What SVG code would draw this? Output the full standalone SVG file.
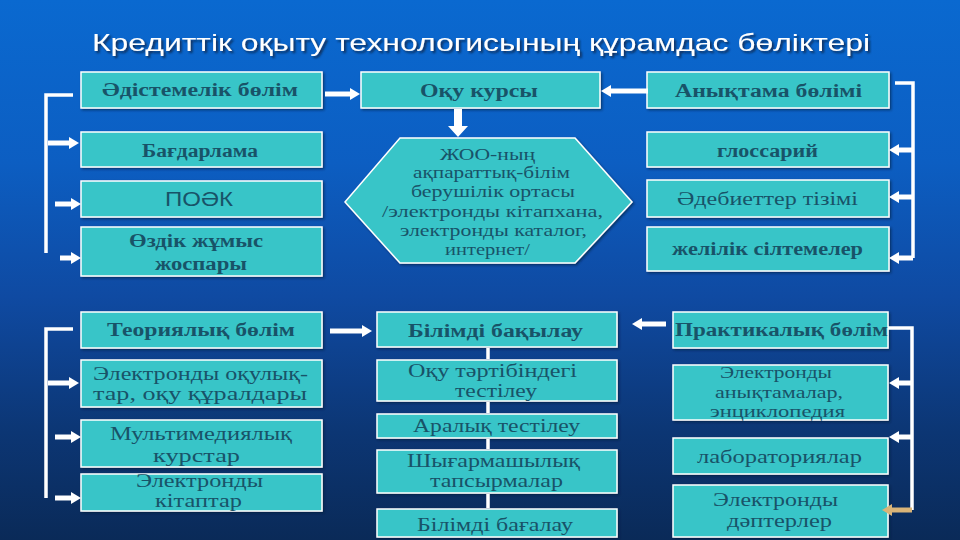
<svg xmlns="http://www.w3.org/2000/svg" width="960" height="540" viewBox="0 0 960 540">
<style>
.box{fill:#37c5c8;stroke:#ffffff;stroke-width:1.5}
.t{font-family:"Liberation Serif","DejaVu Serif",serif;font-size:18px;fill:#185368;text-anchor:start}
.b{font-weight:bold}
.s{font-family:"Liberation Sans",Arial,sans-serif;font-size:20px}
.h{font-size:16.5px}
.ln{fill:none;stroke:#ffffff;stroke-width:3.5}
.ar{fill:none;stroke:#ffffff;stroke-width:5;marker-end:url(#ah)}
.title{font-family:"Liberation Sans",Arial,sans-serif;font-size:24px;fill:#ffffff;filter:url(#sh)}
</style>
<defs>
<linearGradient id="bg" x1="0" y1="0" x2="0" y2="1">
<stop offset="0" stop-color="#0a69d0"/>
<stop offset="0.3" stop-color="#0c5ec2"/>
<stop offset="0.55" stop-color="#0f4aa2"/>
<stop offset="0.8" stop-color="#0c3674"/>
<stop offset="1" stop-color="#0a2a58"/>
</linearGradient>
<filter id="sh" x="-5%" y="-30%" width="110%" height="160%">
<feDropShadow dx="2" dy="2" stdDeviation="0.8" flood-color="#08284f" flood-opacity="0.9"/>
</filter>
<filter id="bs" x="-5%" y="-10%" width="110%" height="130%">
<feDropShadow dx="1.5" dy="1.5" stdDeviation="0.8" flood-color="#061a38" flood-opacity="0.6"/>
</filter>
<marker id="ah" viewBox="0 0 10 12" refX="0" refY="6" markerWidth="10" markerHeight="12" markerUnits="userSpaceOnUse" orient="auto">
<path d="M0,0 L10,6 L0,12 z" fill="#ffffff"/>
</marker>
<marker id="ah2" viewBox="0 0 10 12" refX="0" refY="6" markerWidth="10" markerHeight="12" markerUnits="userSpaceOnUse" orient="auto">
<path d="M0,0 L10,6 L0,12 z" fill="#d9b478"/>
</marker>
</defs>
<rect x="0" y="0" width="960" height="540" fill="url(#bg)"/>

<text class="title" x="92" y="51" textLength="778" lengthAdjust="spacingAndGlyphs">Кредиттік оқыту технологисының құрамдас бөліктері</text>

<g id="n-adistemelik"><rect class="box" x="81" y="72" width="241" height="36" filter="url(#bs)"/><text class="t b" x="102" y="96" textLength="196" lengthAdjust="spacingAndGlyphs">Әдістемелік бөлім</text></g>
<g id="n-bagdarlama"><rect class="box" x="81" y="132" width="241" height="35" filter="url(#bs)"/><text class="t b" x="142" y="157" textLength="116" lengthAdjust="spacingAndGlyphs">Бағдарлама</text></g>
<g id="n-poek"><rect class="box" x="81" y="181" width="241" height="36" filter="url(#bs)"/><text class="t s" x="165" y="206" textLength="68" lengthAdjust="spacingAndGlyphs">ПОӘК</text></g>
<g id="n-ozdik"><rect class="box" x="81" y="227" width="241" height="49" filter="url(#bs)"/><text class="t b" x="129" y="247" textLength="134" lengthAdjust="spacingAndGlyphs">Өздік жұмыс</text><text class="t b" x="155" y="270" textLength="92" lengthAdjust="spacingAndGlyphs">жоспары</text></g>

<g id="n-oku-kursy"><rect class="box" x="361" y="72" width="239" height="36" filter="url(#bs)"/><text class="t b" x="420" y="97" textLength="118" lengthAdjust="spacingAndGlyphs">Оқу курсы</text></g>
<g id="n-zhoo"><polygon class="box" points="400,138 575,138 632,202 575,263 400,263 345,202" filter="url(#bs)"/>
<text class="t h" x="440" y="160" textLength="95" lengthAdjust="spacingAndGlyphs">ЖОО-ның</text>
<text class="t h" x="413" y="178" textLength="157" lengthAdjust="spacingAndGlyphs">ақпараттық-білім</text>
<text class="t h" x="411" y="197" textLength="164" lengthAdjust="spacingAndGlyphs">берушілік ортасы</text>
<text class="t h" x="382" y="217" textLength="221" lengthAdjust="spacingAndGlyphs">/электронды кітапхана,</text>
<text class="t h" x="400" y="236" textLength="187" lengthAdjust="spacingAndGlyphs">электронды каталог,</text>
<text class="t h" x="445" y="255" textLength="85" lengthAdjust="spacingAndGlyphs">интернет/</text></g>

<g id="n-anyktama"><rect class="box" x="647" y="72" width="242" height="36" filter="url(#bs)"/><text class="t b" x="675" y="97" textLength="187" lengthAdjust="spacingAndGlyphs">Анықтама бөлімі</text></g>
<g id="n-glossariy"><rect class="box" x="647" y="132" width="242" height="35" filter="url(#bs)"/><text class="t b" x="717" y="157" textLength="101" lengthAdjust="spacingAndGlyphs">глоссарий</text></g>
<g id="n-adebietter"><rect class="box" x="647" y="180" width="242" height="37" filter="url(#bs)"/><text class="t" x="677" y="205" textLength="181" lengthAdjust="spacingAndGlyphs">Әдебиеттер тізімі</text></g>
<g id="n-zhelilik"><rect class="box" x="647" y="227" width="242" height="44" filter="url(#bs)"/><text class="t b" x="672" y="255" textLength="191" lengthAdjust="spacingAndGlyphs">желілік сілтемелер</text></g>

<g id="n-teoriyalyk"><rect class="box" x="81" y="312" width="241" height="36" filter="url(#bs)"/><text class="t b" x="107" y="336" textLength="188" lengthAdjust="spacingAndGlyphs">Теориялық бөлім</text></g>
<g id="n-okulyktar"><rect class="box" x="81" y="360" width="241" height="47" filter="url(#bs)"/><text class="t" x="93" y="380" textLength="215" lengthAdjust="spacingAndGlyphs">Электронды оқулық-</text><text class="t" x="93" y="400" textLength="214" lengthAdjust="spacingAndGlyphs">тар, оқу құралдары</text></g>
<g id="n-multimedia"><rect class="box" x="81" y="420" width="241" height="47" filter="url(#bs)"/><text class="t" x="110" y="440" textLength="182" lengthAdjust="spacingAndGlyphs">Мультимедиялық</text><text class="t" x="153" y="462" textLength="87" lengthAdjust="spacingAndGlyphs">курстар</text></g>
<g id="n-kitaptar"><rect class="box" x="81" y="474" width="241" height="37" filter="url(#bs)"/><text class="t" x="136" y="487" textLength="127" lengthAdjust="spacingAndGlyphs">Электронды</text><text class="t" x="155" y="507" textLength="87" lengthAdjust="spacingAndGlyphs">кітаптар</text></g>

<g id="n-bakylau"><rect class="box" x="377" y="312" width="240" height="35" filter="url(#bs)"/><text class="t b" x="408" y="337" textLength="175" lengthAdjust="spacingAndGlyphs">Білімді бақылау</text></g>
<g id="n-tartib"><rect class="box" x="377" y="360" width="240" height="41" filter="url(#bs)"/><text class="t" x="408" y="377" textLength="169" lengthAdjust="spacingAndGlyphs">Оқу тәртібіндегі</text><text class="t" x="455" y="397" textLength="82" lengthAdjust="spacingAndGlyphs">тестілеу</text></g>
<g id="n-aralyk"><rect class="box" x="377" y="414" width="240" height="24" filter="url(#bs)"/><text class="t" x="413" y="432" textLength="167" lengthAdjust="spacingAndGlyphs">Аралық тестілеу</text></g>
<g id="n-shygarmashylyk"><rect class="box" x="377" y="450" width="240" height="43" filter="url(#bs)"/><text class="t" x="407" y="467" textLength="173" lengthAdjust="spacingAndGlyphs">Шығармашылық</text><text class="t" x="430" y="487" textLength="133" lengthAdjust="spacingAndGlyphs">тапсырмалар</text></g>
<g id="n-bagalau"><rect class="box" x="377" y="509" width="240" height="28" filter="url(#bs)"/><text class="t" x="417" y="531" textLength="156" lengthAdjust="spacingAndGlyphs">Білімді бағалау</text></g>

<g id="n-praktikalyk"><rect class="box" x="673" y="312" width="215" height="36" filter="url(#bs)"/><text class="t b" x="675" y="336" textLength="213" lengthAdjust="spacingAndGlyphs">Практикалық бөлім</text></g>
<g id="n-anyktamalar"><rect class="box" x="673" y="365" width="215" height="55" filter="url(#bs)"/><text class="t h" x="720" y="378" textLength="112" lengthAdjust="spacingAndGlyphs">Электронды</text><text class="t h" x="715" y="398" textLength="128" lengthAdjust="spacingAndGlyphs">анықтамалар,</text><text class="t h" x="710" y="417" textLength="135" lengthAdjust="spacingAndGlyphs">энциклопедия</text></g>
<g id="n-laboratoriya"><rect class="box" x="673" y="438" width="215" height="36" filter="url(#bs)"/><text class="t" x="697" y="463" textLength="165" lengthAdjust="spacingAndGlyphs">лабораториялар</text></g>
<g id="n-dapterler"><rect class="box" x="673" y="485" width="215" height="52" filter="url(#bs)"/><text class="t" x="713" y="506" textLength="125" lengthAdjust="spacingAndGlyphs">Электронды</text><text class="t" x="727" y="527" textLength="105" lengthAdjust="spacingAndGlyphs">дәптерлер</text></g>

<g id="connectors">
<path class="ln" d="M488,348 V359 M488,402 V413 M488,439 V449 M488,494 V508"/>
<path class="ln" d="M73,95 H46 V253"/>
<path class="ar" d="M48,143 H69"/>
<path class="ar" d="M55,204 H71"/>
<path class="ar" d="M60,258 H71"/>
<path class="ar" d="M325,94 H350"/>
<path class="ar" d="M648,91 H611"/>
<polygon points="454,109 462,109 462,126 468,126 458,137 448,126 454,126" fill="#ffffff"/>
<path class="ln" d="M895,83 H913 V258"/>
<path class="ar" d="M913,150 H899"/>
<path class="ar" d="M913,197 H899"/>
<path class="ar" d="M913,258 H899"/>
<path class="ln" d="M73,329 H46 V498"/>
<path class="ar" d="M48,383 H69"/>
<path class="ar" d="M55,437 H71"/>
<path class="ar" d="M55,498 H71"/>
<path class="ar" d="M330,331 H362"/>
<path class="ar" d="M666,324 H642"/>
<path class="ln" d="M888,328 H912 V510"/>
<path class="ar" d="M912,383 H899"/>
<path class="ar" d="M912,437 H899"/>
<path d="M912,510 H892" fill="none" stroke="#d9b478" stroke-width="5" marker-end="url(#ah2)"/>
</g>
</svg>
